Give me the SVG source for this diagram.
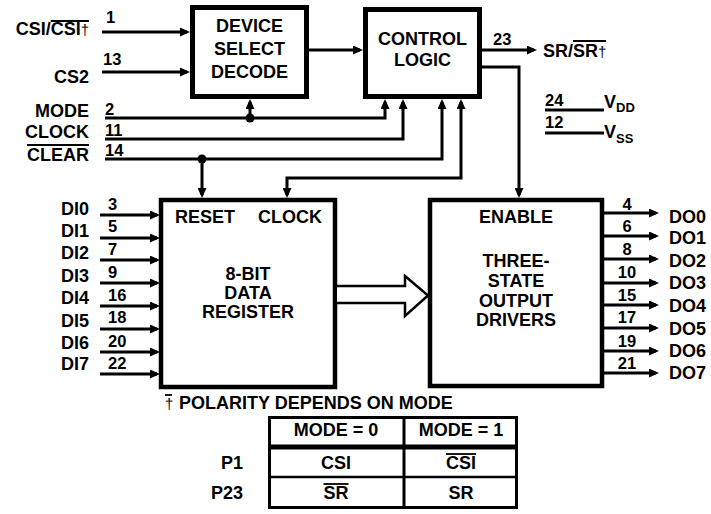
<svg xmlns="http://www.w3.org/2000/svg" width="711" height="514" viewBox="0 0 711 514">
<style>
.t{font-family:"Liberation Sans",Arial,Helvetica,sans-serif;font-weight:bold;font-size:18px;fill:#000}
.n{font-size:16.5px}
.m{text-anchor:middle}
.e{text-anchor:end}
.dg{font-weight:normal;font-size:15px}
.sub{font-size:13px}
.box{fill:#fff;stroke:#000;stroke-width:4.5}
.w{fill:none;stroke:#000;stroke-width:3}
.a{fill:none;stroke:#000;stroke-width:3;marker-end:url(#ah)}
.ov{stroke:#000;stroke-width:1.8}
.tb{fill:none;stroke:#000;stroke-width:3}
</style>
<defs>
<marker id="ah" viewBox="0 0 10 9" refX="7" refY="4.5" markerWidth="10" markerHeight="9" markerUnits="userSpaceOnUse" orient="auto"><path d="M0,0 L10,4.5 L0,9 z" fill="#000"/></marker>
</defs>
<rect width="711" height="514" fill="#fff"/>

<g id="dsd">
<rect class="box" x="192.5" y="7.5" width="114" height="89" style="stroke-width:5"/>
<text class="t m" x="249.5" y="32">DEVICE</text>
<text class="t m" x="249.5" y="55">SELECT</text>
<text class="t m" x="249.5" y="78">DECODE</text>
</g>

<g id="control">
<rect class="box" x="365.5" y="9.5" width="114" height="87" style="stroke-width:5"/>
<text class="t m" x="422.5" y="45">CONTROL</text>
<text class="t m" x="422.5" y="66">LOGIC</text>
</g>

<g id="register">
<rect class="box" x="161" y="200" width="174" height="187"/>
<text class="t" x="175" y="223">RESET</text>
<text class="t" x="258" y="223">CLOCK</text>
<text class="t m" x="248" y="280">8-BIT</text>
<text class="t m" x="248" y="299">DATA</text>
<text class="t m" x="248" y="318">REGISTER</text>
</g>

<g id="drivers">
<rect class="box" x="430" y="200" width="172" height="186"/>
<text class="t m" x="516" y="223">ENABLE</text>
<text class="t m" x="516" y="267">THREE-</text>
<text class="t m" x="516" y="287">STATE</text>
<text class="t m" x="516" y="307">OUTPUT</text>
<text class="t m" x="516" y="326">DRIVERS</text>
</g>

<g id="connectors">
<path class="a" d="M102,32 H187"/>
<path class="a" d="M102,72 H187"/>
<path class="a" d="M309,50 H360"/>
<path class="a" d="M482,50 H534"/>
<path class="a" d="M482,67 H519 V195"/>
<path class="a" d="M105,118 H385 V102"/>
<path class="a" d="M250,118 V102"/>
<path class="a" d="M105,139 H403 V102"/>
<path class="a" d="M105,159 H442 V102"/>
<path class="a" d="M202,159 V195"/>
<path class="a" d="M374,178 H287 V195"/>
<path class="a" d="M374,178 H461 V102"/>
<circle cx="250" cy="118" r="4.5" fill="#000"/>
<circle cx="202" cy="159" r="4.5" fill="#000"/>
<path d="M337,286 H405 V276 L428,295.5 L405,316 V303 H337" fill="#fff" stroke="#000" stroke-width="2.5"/>
<path class="a" d="M100,215 H157"/>
<path class="a" d="M100,238 H157"/>
<path class="a" d="M100,260 H157"/>
<path class="a" d="M100,283 H157"/>
<path class="a" d="M100,306 H157"/>
<path class="a" d="M100,329 H157"/>
<path class="a" d="M100,352 H157"/>
<path class="a" d="M100,374 H157"/>
<path class="a" d="M604,213 H656"/>
<path class="a" d="M604,236 H656"/>
<path class="a" d="M604,259 H656"/>
<path class="a" d="M604,283 H656"/>
<path class="a" d="M604,305 H656"/>
<path class="a" d="M604,328 H656"/>
<path class="a" d="M604,351 H656"/>
<path class="a" d="M604,373 H656"/>
<path class="w" d="M545,110 H604"/>
<path class="w" d="M545,133 H604"/>
</g>

<g id="inputs">
<text class="t e" x="89" y="35">CSI/CSI<tspan class="dg">†</tspan></text>
<line class="ov" x1="50.7" y1="21" x2="89" y2="21"/>
<text class="t n" x="106" y="23">1</text>
<text class="t e" x="89" y="83">CS2</text>
<text class="t n" x="103" y="65">13</text>
<text class="t e" x="89" y="117">MODE</text>
<text class="t n" x="105" y="115">2</text>
<text class="t e" x="89" y="138">CLOCK</text>
<text class="t n" x="105" y="136">11</text>
<text class="t e" x="89" y="161">CLEAR</text>
<line class="ov" x1="27" y1="145" x2="89" y2="145"/>
<text class="t n" x="105" y="156">14</text>
</g>

<g id="data-in">
<text class="t e" x="89" y="215">DI0</text>
<text class="t e" x="89" y="237">DI1</text>
<text class="t e" x="89" y="259">DI2</text>
<text class="t e" x="89" y="282">DI3</text>
<text class="t e" x="89" y="304">DI4</text>
<text class="t e" x="89" y="327">DI5</text>
<text class="t e" x="89" y="349">DI6</text>
<text class="t e" x="89" y="370">DI7</text>
<text class="t n" x="108" y="210">3</text>
<text class="t n" x="108" y="232">5</text>
<text class="t n" x="108" y="255">7</text>
<text class="t n" x="108" y="278">9</text>
<text class="t n" x="108" y="301">16</text>
<text class="t n" x="108" y="323">18</text>
<text class="t n" x="108" y="347">20</text>
<text class="t n" x="108" y="369">22</text>
</g>

<g id="data-out">
<text class="t" x="669" y="223">DO0</text>
<text class="t" x="669" y="244">DO1</text>
<text class="t" x="669" y="267">DO2</text>
<text class="t" x="669" y="289">DO3</text>
<text class="t" x="669" y="312">DO4</text>
<text class="t" x="669" y="335">DO5</text>
<text class="t" x="669" y="357">DO6</text>
<text class="t" x="669" y="379">DO7</text>
<text class="t n m" x="627" y="210">4</text>
<text class="t n m" x="627" y="232">6</text>
<text class="t n m" x="627" y="255">8</text>
<text class="t n m" x="627" y="278">10</text>
<text class="t n m" x="627" y="301">15</text>
<text class="t n m" x="627" y="323">17</text>
<text class="t n m" x="627" y="347">19</text>
<text class="t n m" x="627" y="369">21</text>
</g>

<g id="sr-out">
<text class="t n" x="493" y="45">23</text>
<text class="t" x="543" y="57">SR/SR<tspan class="dg">†</tspan></text>
<line class="ov" x1="573" y1="41" x2="606" y2="41"/>
</g>

<g id="power">
<text class="t n" x="545" y="106">24</text>
<text class="t" x="604" y="108">V<tspan class="sub" dy="4">DD</tspan></text>
<text class="t n" x="545" y="128">12</text>
<text class="t" x="604" y="138">V<tspan class="sub" dy="5">SS</tspan></text>
</g>

<g id="legend">
<text class="t dg" x="165" y="409">†</text>
<line class="ov" x1="165" y1="395" x2="172" y2="395"/>
<text class="t" x="179" y="409">POLARITY DEPENDS ON MODE</text>
</g>

<g id="table">
<rect class="tb" x="269.5" y="417.5" width="247" height="90"/>
<line class="tb" x1="404" y1="417" x2="404" y2="508"/>
<line x1="268" y1="447" x2="518" y2="447" stroke="#000" stroke-width="5"/>
<line x1="268" y1="477" x2="518" y2="477" stroke="#000" stroke-width="2.5"/>
<text class="t m" x="336" y="436">MODE = 0</text>
<text class="t m" x="461" y="436">MODE = 1</text>
<text class="t m" x="336" y="469">CSI</text>
<text class="t m" x="461" y="469">CSI</text>
<line class="ov" x1="446" y1="454" x2="476" y2="454"/>
<text class="t m" x="336" y="499">SR</text>
<line class="ov" x1="323.5" y1="484" x2="348.5" y2="484"/>
<text class="t m" x="461" y="499">SR</text>
<text class="t e" x="243" y="469">P1</text>
<text class="t e" x="243" y="499">P23</text>
</g>
</svg>
